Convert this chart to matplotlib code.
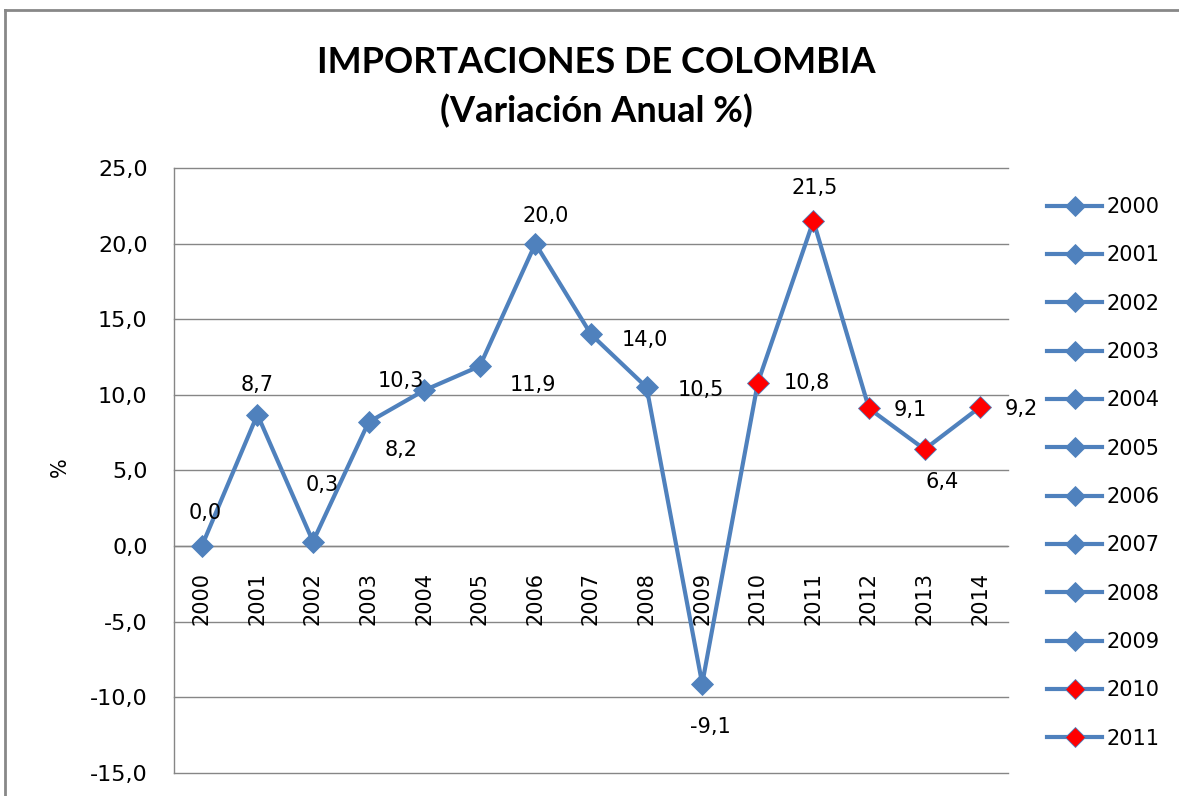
import matplotlib
matplotlib.use("Agg")
import matplotlib.pyplot as plt
from matplotlib.lines import Line2D

# ---- data ----
years = ["2000", "2001", "2002", "2003", "2004", "2005", "2006", "2007",
         "2008", "2009", "2010", "2011", "2012", "2013", "2014"]
values = [0.0, 8.7, 0.3, 8.2, 10.3, 11.9, 20.0, 14.0, 10.5, -9.1,
          10.8, 21.5, 9.1, 6.4, 9.2]
legend_years = years[:12]
title = "IMPORTACIONES DE COLOMBIA\n(Variación Anual %)"
ylabel = "%"
yticks = [-15, -10, -5, 0, 5, 10, 15, 20, 25]

# ---- style ----
BLUE = "#4F81BD"
RED = "#FF0000"
GRID = "#868686"
marker_colors = [BLUE] * 10 + [RED] * 5
# label offsets in pixels (dx, dy with y up)
label_offsets = [(3, 33), (0, 30), (9, 57), (33, -28), (-23, 9), (53, -19),
                 (10, 28), (54, -6), (54, -3), (8, -43), (49, 0), (1, 33),
                 (41, -2), (18, -33), (41, -2)]

W, H = 1179, 796
fig = plt.figure(figsize=(W / 100, H / 100), dpi=100)
fig.patch.set_facecolor("white")

ax = fig.add_axes([174 / W, 1 - 773 / H, (1008 - 174) / W, (773 - 168) / H])
x = list(range(len(years)))

ax.plot(x, values, color=BLUE, lw=3.0, zorder=3, solid_joinstyle="miter")
for xi, v, c in zip(x, values, marker_colors):
    ax.plot([xi], [v], marker="D", ms=11.5 if c == RED else 11,
            color=c, mec=BLUE if c == RED else c, mew=0.6, zorder=4, ls="none")

for xi, v, (dx, dy) in zip(x, values, label_offsets):
    ax.annotate(f"{v:.1f}".replace(".", ","), (xi, v), xytext=(dx, dy),
                textcoords="offset pixels", ha="center", va="center",
                fontsize=15, color="#000000", family="DejaVu Sans", zorder=5)

# category labels at the zero line
for xi, yr in zip(x, years):
    ax.annotate(yr, (xi, 0), xytext=(0, -26), textcoords="offset pixels",
                ha="center", va="top", rotation=90, fontsize=15,
                color="#000000", family="DejaVu Sans")

ax.set_xlim(-0.5, len(years) - 0.5)
ax.set_ylim(-15, 25)
ax.set_yticks(yticks)
ax.set_yticklabels([f"{t:.1f}".replace(".", ",") for t in yticks],
                   fontsize=16, family="DejaVu Sans")
ax.tick_params(axis="y", length=0, pad=19)
ax.set_xticks([])
ax.yaxis.grid(True, color=GRID, lw=1.0)
for gl in ax.get_ygridlines():
    gl.set_clip_on(False)
ax.set_axisbelow(True)
for s in ["top", "right", "bottom"]:
    ax.spines[s].set_visible(False)
ax.spines["left"].set_color(GRID)
ax.spines["left"].set_linewidth(1.0)
ax.axhline(0, color=GRID, lw=1.0, zorder=1)

fig.text(60 / W, 1 - 467 / H, ylabel, rotation=90, ha="center", va="center",
         fontsize=15, family="DejaVu Sans")

fig.text(596 / W, 1 - 87 / H, title, ha="center", va="center",
         fontsize=26, fontweight="bold", family="Lato", linespacing=1.5)

# legend
handles = [Line2D([0], [0], color=BLUE, lw=3.0, marker="D", ms=10,
                  mfc=c, mec=BLUE if c == RED else c, mew=0.6)
           for c in marker_colors[:len(legend_years)]]
fig.legend(handles, legend_years, loc="upper left",
           bbox_to_anchor=(1047 / W, 1 - 197 / H), frameon=False,
           prop={"family": "DejaVu Sans", "size": 15}, handlelength=2.65,
           handletextpad=0.2, labelspacing=1.36, borderaxespad=0, borderpad=0)

# outer chart border (cropped)
fig.add_artist(Line2D([5 / W, 5 / W], [0, 1 - 10 / H], transform=fig.transFigure,
                      color="#888888", lw=2))
fig.add_artist(Line2D([5 / W, 1], [1 - 10 / H, 1 - 10 / H], transform=fig.transFigure,
                      color="#888888", lw=2))

fig.savefig("out.png", dpi=100)
